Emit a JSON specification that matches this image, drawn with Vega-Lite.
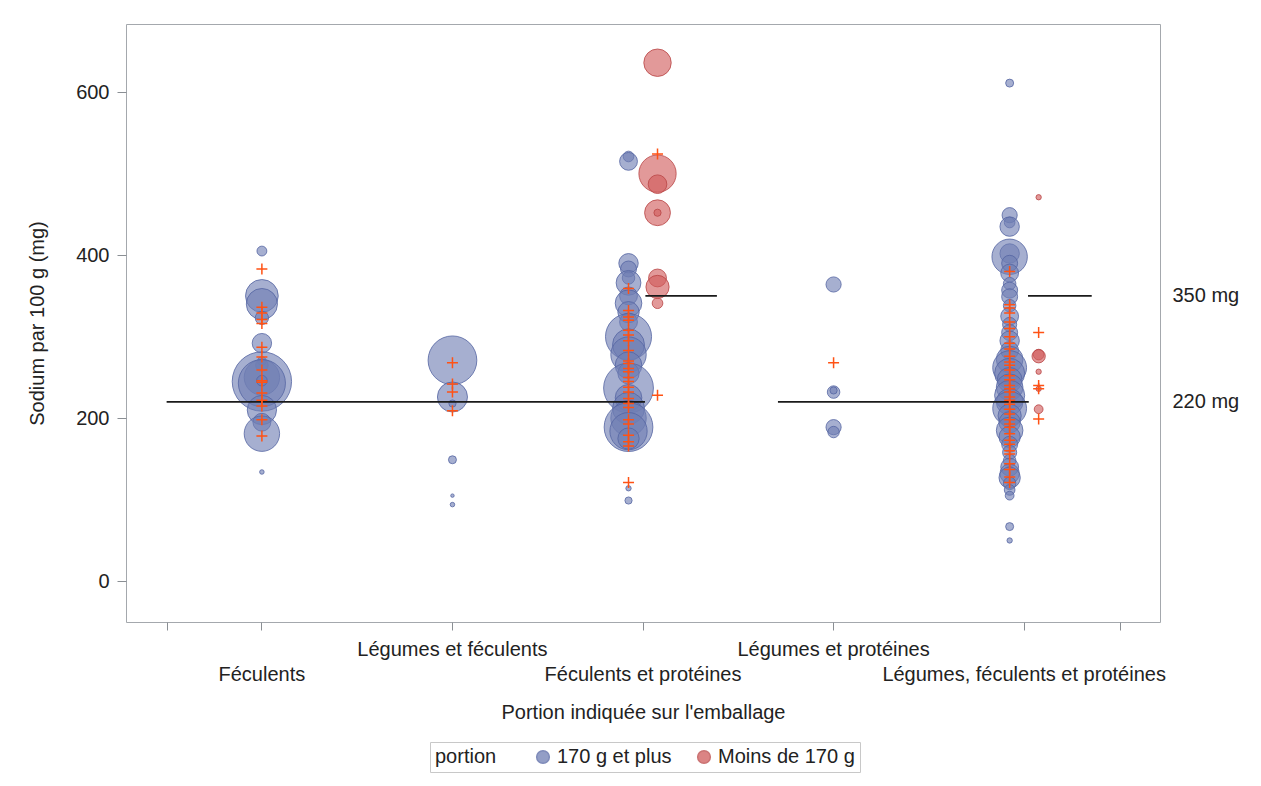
{
  "$schema": "https://vega.github.io/schema/vega-lite/v6.json",
  "width": 1034,
  "height": 598,
  "autosize": "none",
  "padding": {"left": 126, "top": 24, "right": 101, "bottom": 164},
  "background": "white",
  "config": {
    "font": "Liberation Sans",
    "view": {"stroke": "#A4A8AD", "strokeWidth": 1},
    "axis": {"grid": false, "domain": false, "labelFont": "Liberation Sans", "titleFont": "Liberation Sans", "labelFontSize": 20, "titleFontSize": 20, "titleFontWeight": "normal", "labelColor": "#222222", "titleColor": "#222222", "tickColor": "#8A8F94", "labelLimit": 0}
  },
  "datasets": {
    "bulles": [
      {"categorie": "Féculents", "portion": "170 g et plus", "groupe": "c", "sodium": 405, "taille": 3.7},
      {"categorie": "Féculents", "portion": "170 g et plus", "groupe": "c", "sodium": 350, "taille": 12.3},
      {"categorie": "Féculents", "portion": "170 g et plus", "groupe": "c", "sodium": 340, "taille": 11.7},
      {"categorie": "Féculents", "portion": "170 g et plus", "groupe": "c", "sodium": 323, "taille": 5},
      {"categorie": "Féculents", "portion": "170 g et plus", "groupe": "c", "sodium": 292, "taille": 7.3},
      {"categorie": "Féculents", "portion": "170 g et plus", "groupe": "c", "sodium": 270, "taille": 3.3},
      {"categorie": "Féculents", "portion": "170 g et plus", "groupe": "c", "sodium": 265, "taille": 4.7},
      {"categorie": "Féculents", "portion": "170 g et plus", "groupe": "c", "sodium": 250, "taille": 13.3},
      {"categorie": "Féculents", "portion": "170 g et plus", "groupe": "c", "sodium": 245, "taille": 22.3},
      {"categorie": "Féculents", "portion": "170 g et plus", "groupe": "c", "sodium": 243, "taille": 17.7},
      {"categorie": "Féculents", "portion": "170 g et plus", "groupe": "c", "sodium": 246, "taille": 4},
      {"categorie": "Féculents", "portion": "170 g et plus", "groupe": "c", "sodium": 210, "taille": 11},
      {"categorie": "Féculents", "portion": "170 g et plus", "groupe": "c", "sodium": 195, "taille": 6.7},
      {"categorie": "Féculents", "portion": "170 g et plus", "groupe": "c", "sodium": 181, "taille": 13.3},
      {"categorie": "Féculents", "portion": "170 g et plus", "groupe": "c", "sodium": 134, "taille": 1.7},
      {"categorie": "Légumes et féculents", "portion": "170 g et plus", "groupe": "c", "sodium": 271, "taille": 18.3},
      {"categorie": "Légumes et féculents", "portion": "170 g et plus", "groupe": "c", "sodium": 226, "taille": 11.3},
      {"categorie": "Légumes et féculents", "portion": "170 g et plus", "groupe": "c", "sodium": 218, "taille": 2.7},
      {"categorie": "Légumes et féculents", "portion": "170 g et plus", "groupe": "c", "sodium": 149, "taille": 3},
      {"categorie": "Légumes et féculents", "portion": "170 g et plus", "groupe": "c", "sodium": 105, "taille": 1.3},
      {"categorie": "Légumes et féculents", "portion": "170 g et plus", "groupe": "c", "sodium": 94, "taille": 1.7},
      {"categorie": "Féculents et protéines", "portion": "170 g et plus", "groupe": "g", "sodium": 521, "taille": 4},
      {"categorie": "Féculents et protéines", "portion": "170 g et plus", "groupe": "g", "sodium": 515, "taille": 6.7},
      {"categorie": "Féculents et protéines", "portion": "170 g et plus", "groupe": "g", "sodium": 390, "taille": 7.3},
      {"categorie": "Féculents et protéines", "portion": "170 g et plus", "groupe": "g", "sodium": 383, "taille": 6},
      {"categorie": "Féculents et protéines", "portion": "170 g et plus", "groupe": "g", "sodium": 372, "taille": 4.7},
      {"categorie": "Féculents et protéines", "portion": "170 g et plus", "groupe": "g", "sodium": 366, "taille": 9.3},
      {"categorie": "Féculents et protéines", "portion": "170 g et plus", "groupe": "g", "sodium": 350, "taille": 6.7},
      {"categorie": "Féculents et protéines", "portion": "170 g et plus", "groupe": "g", "sodium": 341, "taille": 10},
      {"categorie": "Féculents et protéines", "portion": "170 g et plus", "groupe": "g", "sodium": 330, "taille": 8},
      {"categorie": "Féculents et protéines", "portion": "170 g et plus", "groupe": "g", "sodium": 318, "taille": 6.7},
      {"categorie": "Féculents et protéines", "portion": "170 g et plus", "groupe": "g", "sodium": 300, "taille": 17.3},
      {"categorie": "Féculents et protéines", "portion": "170 g et plus", "groupe": "g", "sodium": 290, "taille": 12},
      {"categorie": "Féculents et protéines", "portion": "170 g et plus", "groupe": "g", "sodium": 278, "taille": 13.3},
      {"categorie": "Féculents et protéines", "portion": "170 g et plus", "groupe": "g", "sodium": 265, "taille": 10},
      {"categorie": "Féculents et protéines", "portion": "170 g et plus", "groupe": "g", "sodium": 255, "taille": 8},
      {"categorie": "Féculents et protéines", "portion": "170 g et plus", "groupe": "g", "sodium": 237, "taille": 18.7},
      {"categorie": "Féculents et protéines", "portion": "170 g et plus", "groupe": "g", "sodium": 225, "taille": 10},
      {"categorie": "Féculents et protéines", "portion": "170 g et plus", "groupe": "g", "sodium": 212, "taille": 12},
      {"categorie": "Féculents et protéines", "portion": "170 g et plus", "groupe": "g", "sodium": 200, "taille": 13.3},
      {"categorie": "Féculents et protéines", "portion": "170 g et plus", "groupe": "g", "sodium": 189, "taille": 18.3},
      {"categorie": "Féculents et protéines", "portion": "170 g et plus", "groupe": "g", "sodium": 184, "taille": 14},
      {"categorie": "Féculents et protéines", "portion": "170 g et plus", "groupe": "g", "sodium": 175, "taille": 8},
      {"categorie": "Féculents et protéines", "portion": "170 g et plus", "groupe": "g", "sodium": 114, "taille": 2},
      {"categorie": "Féculents et protéines", "portion": "170 g et plus", "groupe": "g", "sodium": 99, "taille": 2.7},
      {"categorie": "Féculents et protéines", "portion": "Moins de 170 g", "groupe": "d", "sodium": 636, "taille": 10.3},
      {"categorie": "Féculents et protéines", "portion": "Moins de 170 g", "groupe": "d", "sodium": 500, "taille": 14},
      {"categorie": "Féculents et protéines", "portion": "Moins de 170 g", "groupe": "d", "sodium": 487, "taille": 7},
      {"categorie": "Féculents et protéines", "portion": "Moins de 170 g", "groupe": "d", "sodium": 452, "taille": 9.7},
      {"categorie": "Féculents et protéines", "portion": "Moins de 170 g", "groupe": "d", "sodium": 452, "taille": 2.7},
      {"categorie": "Féculents et protéines", "portion": "Moins de 170 g", "groupe": "d", "sodium": 372, "taille": 6.7},
      {"categorie": "Féculents et protéines", "portion": "Moins de 170 g", "groupe": "d", "sodium": 361, "taille": 8.7},
      {"categorie": "Féculents et protéines", "portion": "Moins de 170 g", "groupe": "d", "sodium": 341, "taille": 4},
      {"categorie": "Légumes et protéines", "portion": "170 g et plus", "groupe": "c", "sodium": 364, "taille": 5.7},
      {"categorie": "Légumes et protéines", "portion": "170 g et plus", "groupe": "c", "sodium": 232, "taille": 4.7},
      {"categorie": "Légumes et protéines", "portion": "170 g et plus", "groupe": "c", "sodium": 234, "taille": 2.7},
      {"categorie": "Légumes et protéines", "portion": "170 g et plus", "groupe": "c", "sodium": 189, "taille": 5.7},
      {"categorie": "Légumes et protéines", "portion": "170 g et plus", "groupe": "c", "sodium": 183, "taille": 4.3},
      {"categorie": "Légumes, féculents et protéines", "portion": "170 g et plus", "groupe": "g", "sodium": 611, "taille": 3},
      {"categorie": "Légumes, féculents et protéines", "portion": "170 g et plus", "groupe": "g", "sodium": 449, "taille": 5.7},
      {"categorie": "Légumes, féculents et protéines", "portion": "170 g et plus", "groupe": "g", "sodium": 440, "taille": 4},
      {"categorie": "Légumes, féculents et protéines", "portion": "170 g et plus", "groupe": "g", "sodium": 435, "taille": 7.3},
      {"categorie": "Légumes, féculents et protéines", "portion": "170 g et plus", "groupe": "g", "sodium": 402, "taille": 7.3},
      {"categorie": "Légumes, féculents et protéines", "portion": "170 g et plus", "groupe": "g", "sodium": 398, "taille": 13.3},
      {"categorie": "Légumes, féculents et protéines", "portion": "170 g et plus", "groupe": "g", "sodium": 390, "taille": 6},
      {"categorie": "Légumes, féculents et protéines", "portion": "170 g et plus", "groupe": "g", "sodium": 378, "taille": 6.7},
      {"categorie": "Légumes, féculents et protéines", "portion": "170 g et plus", "groupe": "g", "sodium": 365, "taille": 4.7},
      {"categorie": "Légumes, féculents et protéines", "portion": "170 g et plus", "groupe": "g", "sodium": 357, "taille": 6},
      {"categorie": "Légumes, féculents et protéines", "portion": "170 g et plus", "groupe": "g", "sodium": 349, "taille": 6},
      {"categorie": "Légumes, féculents et protéines", "portion": "170 g et plus", "groupe": "g", "sodium": 338, "taille": 4.7},
      {"categorie": "Légumes, féculents et protéines", "portion": "170 g et plus", "groupe": "g", "sodium": 325, "taille": 6.7},
      {"categorie": "Légumes, féculents et protéines", "portion": "170 g et plus", "groupe": "g", "sodium": 315, "taille": 5.3},
      {"categorie": "Légumes, féculents et protéines", "portion": "170 g et plus", "groupe": "g", "sodium": 305, "taille": 6},
      {"categorie": "Légumes, féculents et protéines", "portion": "170 g et plus", "groupe": "g", "sodium": 295, "taille": 7.3},
      {"categorie": "Légumes, féculents et protéines", "portion": "170 g et plus", "groupe": "g", "sodium": 283, "taille": 6.7},
      {"categorie": "Légumes, féculents et protéines", "portion": "170 g et plus", "groupe": "g", "sodium": 272, "taille": 10},
      {"categorie": "Légumes, féculents et protéines", "portion": "170 g et plus", "groupe": "g", "sodium": 262, "taille": 12.7},
      {"categorie": "Légumes, féculents et protéines", "portion": "170 g et plus", "groupe": "g", "sodium": 255, "taille": 11.3},
      {"categorie": "Légumes, féculents et protéines", "portion": "170 g et plus", "groupe": "g", "sodium": 247, "taille": 9.3},
      {"categorie": "Légumes, féculents et protéines", "portion": "170 g et plus", "groupe": "g", "sodium": 238, "taille": 10},
      {"categorie": "Légumes, féculents et protéines", "portion": "170 g et plus", "groupe": "g", "sodium": 228, "taille": 11.3},
      {"categorie": "Légumes, féculents et protéines", "portion": "170 g et plus", "groupe": "g", "sodium": 220, "taille": 10},
      {"categorie": "Légumes, féculents et protéines", "portion": "170 g et plus", "groupe": "g", "sodium": 212, "taille": 12.7},
      {"categorie": "Légumes, féculents et protéines", "portion": "170 g et plus", "groupe": "g", "sodium": 203, "taille": 8.7},
      {"categorie": "Légumes, féculents et protéines", "portion": "170 g et plus", "groupe": "g", "sodium": 195, "taille": 8},
      {"categorie": "Légumes, féculents et protéines", "portion": "170 g et plus", "groupe": "g", "sodium": 185, "taille": 10},
      {"categorie": "Légumes, féculents et protéines", "portion": "170 g et plus", "groupe": "g", "sodium": 177, "taille": 8},
      {"categorie": "Légumes, féculents et protéines", "portion": "170 g et plus", "groupe": "g", "sodium": 168, "taille": 6},
      {"categorie": "Légumes, féculents et protéines", "portion": "170 g et plus", "groupe": "g", "sodium": 158, "taille": 5.3},
      {"categorie": "Légumes, féculents et protéines", "portion": "170 g et plus", "groupe": "g", "sodium": 148, "taille": 4.7},
      {"categorie": "Légumes, féculents et protéines", "portion": "170 g et plus", "groupe": "g", "sodium": 140, "taille": 6.7},
      {"categorie": "Légumes, féculents et protéines", "portion": "170 g et plus", "groupe": "g", "sodium": 132, "taille": 7.3},
      {"categorie": "Légumes, féculents et protéines", "portion": "170 g et plus", "groupe": "g", "sodium": 127, "taille": 8},
      {"categorie": "Légumes, féculents et protéines", "portion": "170 g et plus", "groupe": "g", "sodium": 120, "taille": 4.7},
      {"categorie": "Légumes, féculents et protéines", "portion": "170 g et plus", "groupe": "g", "sodium": 112, "taille": 4},
      {"categorie": "Légumes, féculents et protéines", "portion": "170 g et plus", "groupe": "g", "sodium": 105, "taille": 3.3},
      {"categorie": "Légumes, féculents et protéines", "portion": "170 g et plus", "groupe": "g", "sodium": 67, "taille": 3},
      {"categorie": "Légumes, féculents et protéines", "portion": "170 g et plus", "groupe": "g", "sodium": 50, "taille": 2},
      {"categorie": "Légumes, féculents et protéines", "portion": "Moins de 170 g", "groupe": "d", "sodium": 471, "taille": 2},
      {"categorie": "Légumes, féculents et protéines", "portion": "Moins de 170 g", "groupe": "d", "sodium": 278, "taille": 4},
      {"categorie": "Légumes, féculents et protéines", "portion": "Moins de 170 g", "groupe": "d", "sodium": 276, "taille": 5},
      {"categorie": "Légumes, féculents et protéines", "portion": "Moins de 170 g", "groupe": "d", "sodium": 257, "taille": 2},
      {"categorie": "Légumes, féculents et protéines", "portion": "Moins de 170 g", "groupe": "d", "sodium": 236, "taille": 2},
      {"categorie": "Légumes, féculents et protéines", "portion": "Moins de 170 g", "groupe": "d", "sodium": 211, "taille": 3.3}
    ],
    "croix": [
      {"categorie": "Féculents", "groupe": "c", "sodium": 383}, {"categorie": "Féculents", "groupe": "c", "sodium": 336},
      {"categorie": "Féculents", "groupe": "c", "sodium": 329}, {"categorie": "Féculents", "groupe": "c", "sodium": 321},
      {"categorie": "Féculents", "groupe": "c", "sodium": 316}, {"categorie": "Féculents", "groupe": "c", "sodium": 287},
      {"categorie": "Féculents", "groupe": "c", "sodium": 275}, {"categorie": "Féculents", "groupe": "c", "sodium": 259},
      {"categorie": "Féculents", "groupe": "c", "sodium": 246}, {"categorie": "Féculents", "groupe": "c", "sodium": 244},
      {"categorie": "Féculents", "groupe": "c", "sodium": 231}, {"categorie": "Féculents", "groupe": "c", "sodium": 222},
      {"categorie": "Féculents", "groupe": "c", "sodium": 215}, {"categorie": "Féculents", "groupe": "c", "sodium": 198},
      {"categorie": "Féculents", "groupe": "c", "sodium": 178},
      {"categorie": "Légumes et féculents", "groupe": "c", "sodium": 268}, {"categorie": "Légumes et féculents", "groupe": "c", "sodium": 242},
      {"categorie": "Légumes et féculents", "groupe": "c", "sodium": 232}, {"categorie": "Légumes et féculents", "groupe": "c", "sodium": 209},
      {"categorie": "Féculents et protéines", "groupe": "g", "sodium": 359}, {"categorie": "Féculents et protéines", "groupe": "g", "sodium": 332},
      {"categorie": "Féculents et protéines", "groupe": "g", "sodium": 324}, {"categorie": "Féculents et protéines", "groupe": "g", "sodium": 320},
      {"categorie": "Féculents et protéines", "groupe": "g", "sodium": 308}, {"categorie": "Féculents et protéines", "groupe": "g", "sodium": 302},
      {"categorie": "Féculents et protéines", "groupe": "g", "sodium": 295}, {"categorie": "Féculents et protéines", "groupe": "g", "sodium": 283},
      {"categorie": "Féculents et protéines", "groupe": "g", "sodium": 270}, {"categorie": "Féculents et protéines", "groupe": "g", "sodium": 267},
      {"categorie": "Féculents et protéines", "groupe": "g", "sodium": 261}, {"categorie": "Féculents et protéines", "groupe": "g", "sodium": 257},
      {"categorie": "Féculents et protéines", "groupe": "g", "sodium": 250}, {"categorie": "Féculents et protéines", "groupe": "g", "sodium": 245},
      {"categorie": "Féculents et protéines", "groupe": "g", "sodium": 238}, {"categorie": "Féculents et protéines", "groupe": "g", "sodium": 232},
      {"categorie": "Féculents et protéines", "groupe": "g", "sodium": 224}, {"categorie": "Féculents et protéines", "groupe": "g", "sodium": 218},
      {"categorie": "Féculents et protéines", "groupe": "g", "sodium": 213}, {"categorie": "Féculents et protéines", "groupe": "g", "sodium": 198},
      {"categorie": "Féculents et protéines", "groupe": "g", "sodium": 193}, {"categorie": "Féculents et protéines", "groupe": "g", "sodium": 179},
      {"categorie": "Féculents et protéines", "groupe": "g", "sodium": 171}, {"categorie": "Féculents et protéines", "groupe": "g", "sodium": 166},
      {"categorie": "Féculents et protéines", "groupe": "g", "sodium": 121},
      {"categorie": "Féculents et protéines", "groupe": "d", "sodium": 524}, {"categorie": "Féculents et protéines", "groupe": "d", "sodium": 228},
      {"categorie": "Légumes et protéines", "groupe": "c", "sodium": 268},
      {"categorie": "Légumes, féculents et protéines", "groupe": "g", "sodium": 380}, {"categorie": "Légumes, féculents et protéines", "groupe": "g", "sodium": 339},
      {"categorie": "Légumes, féculents et protéines", "groupe": "g", "sodium": 335}, {"categorie": "Légumes, féculents et protéines", "groupe": "g", "sodium": 329},
      {"categorie": "Légumes, féculents et protéines", "groupe": "g", "sodium": 318}, {"categorie": "Légumes, féculents et protéines", "groupe": "g", "sodium": 310},
      {"categorie": "Légumes, féculents et protéines", "groupe": "g", "sodium": 300}, {"categorie": "Légumes, féculents et protéines", "groupe": "g", "sodium": 292},
      {"categorie": "Légumes, féculents et protéines", "groupe": "g", "sodium": 285}, {"categorie": "Légumes, féculents et protéines", "groupe": "g", "sodium": 276},
      {"categorie": "Légumes, féculents et protéines", "groupe": "g", "sodium": 269}, {"categorie": "Légumes, féculents et protéines", "groupe": "g", "sodium": 265},
      {"categorie": "Légumes, féculents et protéines", "groupe": "g", "sodium": 259}, {"categorie": "Légumes, féculents et protéines", "groupe": "g", "sodium": 252},
      {"categorie": "Légumes, féculents et protéines", "groupe": "g", "sodium": 247}, {"categorie": "Légumes, féculents et protéines", "groupe": "g", "sodium": 240},
      {"categorie": "Légumes, féculents et protéines", "groupe": "g", "sodium": 236}, {"categorie": "Légumes, féculents et protéines", "groupe": "g", "sodium": 232},
      {"categorie": "Légumes, féculents et protéines", "groupe": "g", "sodium": 226}, {"categorie": "Légumes, féculents et protéines", "groupe": "g", "sodium": 222},
      {"categorie": "Légumes, féculents et protéines", "groupe": "g", "sodium": 217}, {"categorie": "Légumes, féculents et protéines", "groupe": "g", "sodium": 211},
      {"categorie": "Légumes, féculents et protéines", "groupe": "g", "sodium": 205}, {"categorie": "Légumes, féculents et protéines", "groupe": "g", "sodium": 198},
      {"categorie": "Légumes, féculents et protéines", "groupe": "g", "sodium": 193}, {"categorie": "Légumes, féculents et protéines", "groupe": "g", "sodium": 189},
      {"categorie": "Légumes, féculents et protéines", "groupe": "g", "sodium": 181}, {"categorie": "Légumes, féculents et protéines", "groupe": "g", "sodium": 173},
      {"categorie": "Légumes, féculents et protéines", "groupe": "g", "sodium": 168}, {"categorie": "Légumes, féculents et protéines", "groupe": "g", "sodium": 160},
      {"categorie": "Légumes, féculents et protéines", "groupe": "g", "sodium": 156}, {"categorie": "Légumes, féculents et protéines", "groupe": "g", "sodium": 144},
      {"categorie": "Légumes, féculents et protéines", "groupe": "g", "sodium": 137}, {"categorie": "Légumes, féculents et protéines", "groupe": "g", "sodium": 128},
      {"categorie": "Légumes, féculents et protéines", "groupe": "g", "sodium": 121},
      {"categorie": "Légumes, féculents et protéines", "groupe": "d", "sodium": 305}, {"categorie": "Légumes, féculents et protéines", "groupe": "d", "sodium": 240},
      {"categorie": "Légumes, féculents et protéines", "groupe": "d", "sodium": 236}, {"categorie": "Légumes, féculents et protéines", "groupe": "d", "sodium": 199}
    ],
    "seuils": [
      {"debut": 0.5, "fin": 3.008, "seuil": 220},
      {"debut": 3.01, "fin": 3.385, "seuil": 350},
      {"debut": 3.705, "fin": 5.02, "seuil": 220},
      {"debut": 5.016, "fin": 5.35, "seuil": 350}
    ]
  },
  "resolve": {"scale": {"x": "independent"}, "axis": {"x": "independent", "y": "independent"}},
  "layer": [
    {
      "data": {"name": "bulles"},
      "mark": {"type": "point", "shape": "circle", "filled": true, "fillOpacity": 0.62, "strokeOpacity": 0.8, "strokeWidth": 1},
      "encoding": {
        "x": {
          "field": "categorie", "type": "nominal",
          "scale": {"domain": ["Féculents", "Légumes et féculents", "Féculents et protéines", "Légumes et protéines", "Légumes, féculents et protéines"], "paddingInner": 0, "paddingOuter": 0.213},
          "axis": {
            "labelExpr": "indexof(['Féculents', 'Féculents et protéines', 'Légumes, féculents et protéines'], datum.value) >= 0 ? ['', datum.value] : datum.value",
            "title": "Portion indiquée sur l'emballage",
            "tickSize": 8, "labelPadding": 9, "labelLineHeight": 25, "labelAngle": 0, "labelLimit": 0,
            "labelOverlap": false, "labelFlush": false, "titlePadding": 18, "orient": "bottom"
          }
        },
        "xOffset": {"field": "groupe", "type": "nominal", "scale": {"type": "point", "domain": ["g", "c", "d"], "range": [80.8, 109.8], "padding": 0}},
        "y": {
          "field": "sodium", "type": "quantitative",
          "scale": {"domain": [-50, 683.5], "nice": false, "zero": false},
          "axis": {"values": [0, 200, 400, 600], "title": "Sodium par 100 g (mg)", "tickSize": 9, "labelPadding": 8, "titlePadding": 28}
        },
        "size": {"field": "taille", "type": "quantitative", "scale": {"type": "pow", "exponent": 2, "domain": [0, 22.3], "range": [0, 3525]}, "legend": null},
        "fill": {
          "field": "portion", "type": "nominal",
          "scale": {"domain": ["170 g et plus", "Moins de 170 g"], "range": ["#6F7EB3", "#D05B5B"]},
          "legend": {
            "orient": "none", "legendX": 304, "legendY": 718, "direction": "horizontal",
            "title": "portion", "titleOrient": "left", "titleFontSize": 20, "titleFontWeight": "normal", "titleFont": "Liberation Sans", "titleColor": "#222222",
            "labelFontSize": 20, "labelFont": "Liberation Sans", "labelColor": "#222222",
            "symbolType": "circle", "symbolSize": 160, "symbolOpacity": 0.75,
            "strokeColor": "#C8C8C8", "padding": 5, "columnPadding": 22, "titlePadding": 36
          }
        },
        "stroke": {
          "field": "portion", "type": "nominal",
          "scale": {"domain": ["170 g et plus", "Moins de 170 g"], "range": ["#5565A3", "#B94545"]},
          "legend": {
            "orient": "none", "legendX": 304, "legendY": 718, "direction": "horizontal",
            "title": "portion", "titleOrient": "left", "titleFontSize": 20, "titleFontWeight": "normal", "titleFont": "Liberation Sans", "titleColor": "#222222",
            "labelFontSize": 20, "labelFont": "Liberation Sans", "labelColor": "#222222",
            "symbolType": "circle", "symbolSize": 160, "symbolOpacity": 0.75,
            "strokeColor": "#C8C8C8", "padding": 5, "columnPadding": 22, "titlePadding": 36
          }
        }
      }
    },
    {
      "data": {"name": "seuils"},
      "mark": {"type": "rule", "color": "#1A1A1A", "strokeWidth": 1.6},
      "encoding": {
        "x": {
          "field": "debut", "type": "quantitative",
          "scale": {"domain": [0.287, 5.708], "nice": false, "zero": false},
          "axis": {"orient": "bottom", "values": [0.5, 5.5], "labels": false, "title": null, "tickSize": 8, "domain": false}
        },
        "x2": {"field": "fin"},
        "y": {
          "field": "seuil", "type": "quantitative",
          "axis": {"orient": "right", "values": [220, 350], "labelExpr": "datum.value + ' mg'", "ticks": false, "tickSize": 0, "labelPadding": 12, "title": null}
        }
      }
    },
    {
      "data": {"name": "croix"},
      "mark": {"type": "point", "shape": "M-1,0H1M0,-1V1", "filled": false, "stroke": "#FF5214", "strokeWidth": 1.5, "size": 121, "opacity": 1},
      "encoding": {
        "x": {
          "field": "categorie", "type": "nominal",
          "scale": {"domain": ["Féculents", "Légumes et féculents", "Féculents et protéines", "Légumes et protéines", "Légumes, féculents et protéines"], "paddingInner": 0, "paddingOuter": 0.213},
          "axis": null
        },
        "xOffset": {"field": "groupe", "type": "nominal", "scale": {"type": "point", "domain": ["g", "c", "d"], "range": [80.8, 109.8], "padding": 0}},
        "y": {"field": "sodium", "type": "quantitative", "axis": null}
      }
    }
  ]
}
